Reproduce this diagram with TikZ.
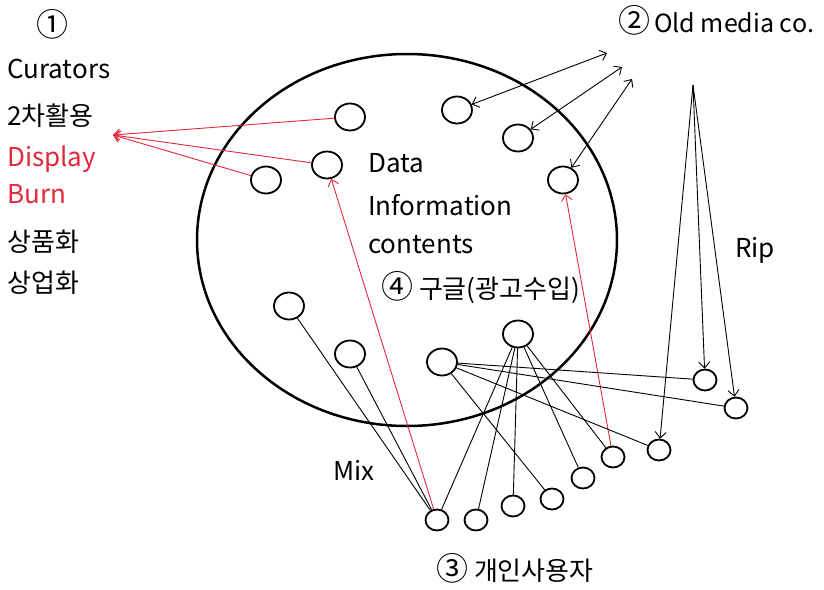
\documentclass[tikz,border=0pt]{standalone}
\usepackage{fontspec}
\setmainfont{Noto Sans CJK KR}
\usetikzlibrary{shapes.geometric,arrows.meta}
\definecolor{myred}{RGB}{228,40,60}
\newcommand{\cnum}[1]{{\fontsize{32}{32}\selectfont #1}}
\begin{document}
\begin{tikzpicture}[x=1pt,y=-1pt,
  every node/.style={font=\fontsize{26}{30}\selectfont},
  dot/.style={draw, ellipse, line width=1.8pt, minimum width=30pt, minimum height=27pt, inner sep=0pt},
  sdot/.style={draw, ellipse, line width=1.8pt, minimum width=23pt, minimum height=21pt, inner sep=0pt},
  lbl/.style={anchor=base west, inner sep=0pt},
  link/.style={line width=0.9pt},
  rlink/.style={line width=0.9pt, draw=myred},
  arr/.style={-{Straight Barb[length=6pt,width=11pt]}},
  darr/.style={{Straight Barb[length=6pt,width=11pt]}-{Straight Barb[length=6pt,width=11pt]}}
]
\useasboundingbox (0,0) rectangle (824,589);

% big ellipse
\node[draw, ellipse, line width=2.5pt, minimum width=420pt, minimum height=372pt, inner sep=0pt] (big) at (407,240) {};

% circles inside
\node[dot] (A) at (350,117) {};
\node[dot] (B) at (327,165) {};
\node[dot] (C) at (266,180) {};
\node[dot] (D) at (457,110) {};
\node[dot] (E) at (518,138) {};
\node[dot] (F) at (563,180) {};
\node[dot] (G) at (289,306) {};
\node[dot] (H) at (350,354) {};
\node[dot] (I) at (442,362) {};
\node[dot] (J) at (518,334) {};

% bottom circles
\node[sdot] (K1) at (437,520) {};
\node[sdot] (K2) at (476,520) {};
\node[sdot] (K3) at (513,506) {};
\node[sdot] (K4) at (552,499) {};
\node[sdot] (K5) at (583,478) {};
\node[sdot] (K6) at (613,457) {};
\node[sdot] (K7) at (659,450) {};
\node[sdot] (L1) at (705,380) {};
\node[sdot] (L2) at (736,408) {};

% coordinates
\coordinate (tip) at (113,135);
\coordinate (o1) at (607,53);
\coordinate (o2) at (622,67);
\coordinate (o3) at (632,79);
\coordinate (rip) at (693,85);

% texts
\node[lbl] (n1) at (36,36) {\cnum{①}};
\node[lbl] (t1) at (7,78) {Curators};
\node[lbl] (t2) at (7,125) {2차활용};
\node[lbl, text=myred] (t3) at (7,166) {Display};
\node[lbl, text=myred] (t4) at (7,203) {Burn};
\node[lbl] (t5) at (7,251) {상품화};
\node[lbl] (t6) at (7,292) {상업화};
\node[lbl, font=\fontsize{25}{30}\selectfont] (t7) at (618,32) {\cnum{②}\kern4pt Old media co.};
\node[lbl] (t8) at (368,172) {Data};
\node[lbl] (t9) at (368,215) {Information};
\node[lbl] (t10) at (368,253) {contents};
\node[lbl] (t11) at (381,298) {\cnum{④} 구글(광고수입)};
\node[lbl] (t12) at (735,257) {Rip};
\node[lbl] (t13) at (333,480) {Mix};
\node[lbl] (t14) at (436,580) {\cnum{③} 개인사용자};

% red arrows to the left
\draw[rlink, arr] (A) -- (tip);
\draw[rlink, arr] (B) -- (tip);
\draw[rlink, arr] (C) -- (tip);
\draw[rlink, arr] (K1) -- (B);
\draw[rlink, arr] (K6) -- (F);

% old media double arrows
\draw[link, darr] (D) -- (o1);
\draw[link, darr] (E) -- (o2);
\draw[link, darr] (F) -- (o3);

% rip arrows
\draw[link, arr] (rip) -- (L1);
\draw[link, arr] (rip) -- (L2);
\draw[link, arr] (rip) -- (K7);

% mix lines
\draw[link] (G) -- (K1);
\draw[link] (H) -- (K1);
\draw[link] (J) -- (K1);
\draw[link] (J) -- (K2);
\draw[link] (J) -- (K3);
\draw[link] (J) -- (K5);
\draw[link] (J) -- (K6);
\draw[link] (I) -- (K4);
\draw[link] (I) -- (K7);
\draw[link] (I) -- (L1);
\draw[link] (I) -- (L2);
\end{tikzpicture}
\end{document}
